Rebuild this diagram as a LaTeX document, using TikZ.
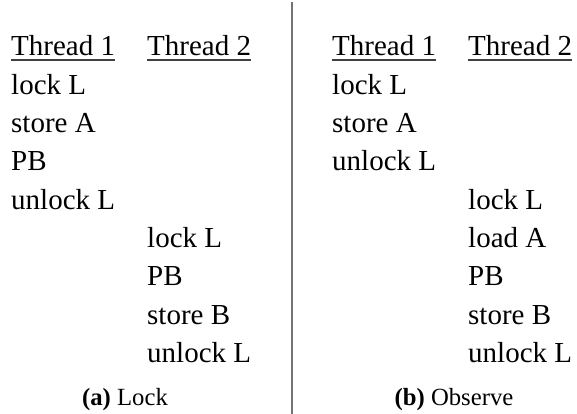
\documentclass[tikz,border=0pt]{standalone}
\usepackage{fontspec}
\setmainfont{Liberation Serif}
\begin{document}
\begin{tikzpicture}[x=1pt,y=-1pt,
  op/.style={anchor=base west,inner sep=0pt,font=\fontsize{29}{29}\selectfont},
  subcap/.style={anchor=base,inner sep=0pt,font=\fontsize{24.7}{24.7}\selectfont},
  uline/.style={draw=black!75,line width=1.2pt},
  divider/.style={draw=black!55,line width=2pt}]
\useasboundingbox (0,0) rectangle (577,414);
% divider between the two panels
\coordinate (dtop) at (292,2);
\coordinate (dbot) at (292,414);
\draw[divider] (dtop) -- (dbot);
% row baselines: 56 + 38.3 k
% --- panel (a) ---
\node[op] (a1h) at (11,56) {Thread 1};
\node[op] (a2h) at (147,56) {Thread 2};
\draw[uline] ([yshift=-4pt]a1h.base west) -- ([yshift=-4pt]a1h.base east);
\draw[uline] ([yshift=-4pt]a2h.base west) -- ([yshift=-4pt]a2h.base east);
\node[op] (a11) at (11,94.3) {lock L};
\node[op] (a12) at (11,132.6) {store A};
\node[op] (a13) at (11,170.9) {PB};
\node[op] (a14) at (11,209.2) {unlock L};
\node[op] (a25) at (147,247.5) {lock L};
\node[op] (a26) at (147,285.8) {PB};
\node[op] (a27) at (147,324.1) {store B};
\node[op] (a28) at (147,362.4) {unlock L};
\node[subcap] (acap) at (125,405.5) {\textbf{(a)} Lock};
% --- panel (b) ---
\node[op] (b1h) at (332,56) {Thread 1};
\node[op] (b2h) at (468,56) {Thread 2};
\draw[uline] ([yshift=-4pt]b1h.base west) -- ([yshift=-4pt]b1h.base east);
\draw[uline] ([yshift=-4pt]b2h.base west) -- ([yshift=-4pt]b2h.base east);
\node[op] (b11) at (332,94.3) {lock L};
\node[op] (b12) at (332,132.6) {store A};
\node[op] (b13) at (332,170.9) {unlock L};
\node[op] (b24) at (468,209.2) {lock L};
\node[op] (b25) at (468,247.5) {load A};
\node[op] (b26) at (468,285.8) {PB};
\node[op] (b27) at (468,324.1) {store B};
\node[op] (b28) at (468,362.4) {unlock L};
\node[subcap] (bcap) at (454,405.5) {\textbf{(b)} Observe};
\end{tikzpicture}
\end{document}
